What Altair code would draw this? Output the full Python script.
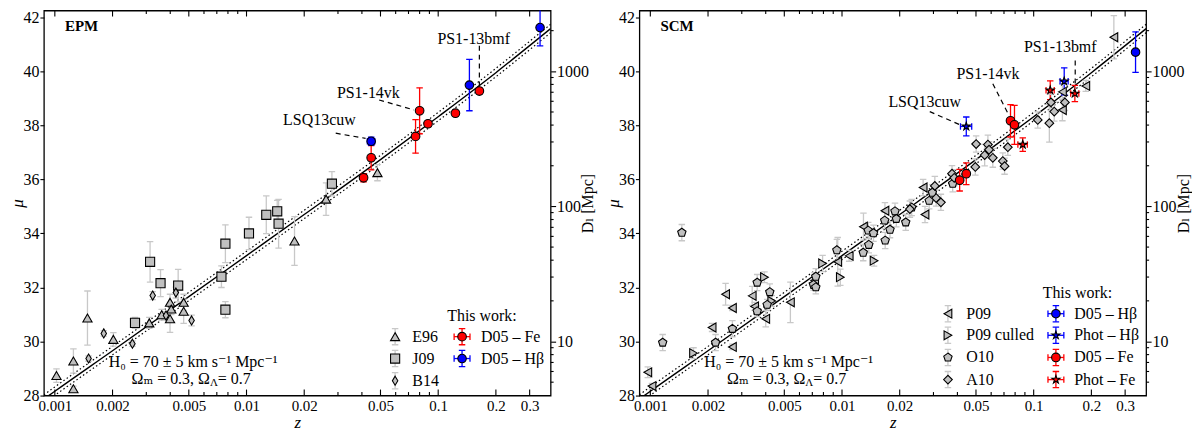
import altair as alt
import pandas as pd

# ---------------- EPM panel (left) ----------------
e96_z = [0.00102, 0.00125, 0.00125, 0.00148, 0.00202, 0.00311, 0.00361, 0.00399, 0.00405,
         0.00399, 0.0047, 0.0047, 0.0178, 0.026, 0.0482]
e96_mu = [28.74, 29.28, 28.25, 30.87, 30.08, 30.69, 30.99, 31.45, 31.2,
          30.84, 31.45, 31.12, 33.72, 35.27, 36.25]
e96_err = [0.25, 0.45, 0.1, 1.0, 0.25, 0.2, 0.2, 0.3, 0.2, 0.5, 0.3, 0.45, 0.9, 0.6, 0.3]

j09_z = [0.00262, 0.00314, 0.00356, 0.0044, 0.0074, 0.00776, 0.00776, 0.0103, 0.01268,
         0.01446, 0.0147, 0.0279]
j09_mu = [30.69, 32.95, 32.16, 32.07, 32.4, 33.62, 31.18, 34.0, 34.69, 34.82, 34.36, 35.84]
j09_err = [0.2, 0.75, 0.5, 0.6, 0.4, 0.7, 0.3, 0.6, 0.7, 0.4, 0.9, 0.45]

b14_z = [0.0015, 0.0018, 0.00254, 0.00324, 0.0038, 0.00428, 0.00517]
b14_mu = [29.37, 30.3, 29.92, 31.7, 30.96, 31.81, 30.78]
b14_err = [0.1, 0.1, 0.1, 0.15, 0.15, 0.2, 0.2]

epm_fe_z = [0.0408, 0.0447, 0.0762, 0.080, 0.0885, 0.123, 0.164]
epm_fe_mu = [36.06, 36.8, 37.59, 38.54, 38.06, 38.45, 39.27]
epm_fe_err = [0.15, 0.45, 0.62, 0.85, 0.1, 0.1, 0.1]

epm_hb_z = [0.0447, 0.1455, 0.34]
epm_hb_mu = [37.41, 39.49, 41.62]
epm_hb_err = [0.15, 0.95, 0.68]
epm_hb_zerr = [0.002, 0, 0]

# ---------------- SCM panel (right) ----------------
p09_z = [0.00097, 0.00102, 0.0021, 0.00247, 0.00268, 0.00268, 0.0034, 0.0035, 0.0040,
         0.00538, 0.0072, 0.0095, 0.0109, 0.01294, 0.01675, 0.0265, 0.0271, 0.1412,
         0.1412, 0.187, 0.262]
p09_mu = [28.86, 28.35, 30.52, 31.75, 31.24, 29.8, 31.69, 31.3, 30.84,
          31.45, 32.25, 32.95, 33.17, 34.25, 34.84, 35.7, 34.7, 39.24,
          38.57, 39.46, 41.26]
p09_err = [0.2, 0.1, 0.15, 0.4, 0.1, 0.1, 0.35, 0.15, 0.3, 0.75, 0.3, 0.9, 0.2, 0.5,
           0.3, 0.3, 0.3, 0.3, 0.4, 0.2, 0.8]

p09c_z = [0.00168, 0.00394, 0.0043, 0.00792, 0.0098, 0.0147]
p09c_mu = [29.57, 32.38, 31.5, 32.89, 32.38, 32.99]
p09c_err = [0.2, 0.2, 0.2, 0.3, 0.3, 0.2]

o10_z = [0.00116, 0.00146, 0.00219, 0.00268, 0.00361, 0.00361, 0.00407, 0.0042, 0.0073,
         0.0071, 0.0073, 0.0094, 0.0129, 0.0138, 0.0137, 0.0146, 0.0167, 0.0168, 0.0178,
         0.0189, 0.0192, 0.0215, 0.0231, 0.0285, 0.0296, 0.0378]
o10_mu = [29.96, 34.03, 29.96, 30.47, 32.18, 31.12, 31.36, 31.83, 32.4,
          32.1, 32.01, 33.38, 33.29, 33.58, 34.11, 34.01, 34.48, 33.74, 34.14,
          34.82, 34.54, 34.41, 34.96, 35.21, 35.51, 35.84]
o10_err = [0.3, 0.3, 0.3, 0.3, 0.3, 0.2, 0.2, 0.3, 0.3, 0.2, 0.25, 0.4, 0.3, 0.3, 0.3,
           0.3, 0.3, 0.3, 0.3, 0.3, 0.3, 0.3, 0.3, 0.3, 0.3, 0.3]

a10_z = [0.0226, 0.0305, 0.031, 0.0328, 0.0375, 0.0385, 0.0501, 0.0577, 0.0585, 0.0555,
         0.0612, 0.069, 0.0705, 0.0496, 0.0733, 0.105, 0.1207, 0.123, 0.1455, 0.128]
a10_mu = [34.9, 35.76, 35.31, 35.15, 36.21, 36.06, 37.31, 37.29, 37.1, 36.9,
          36.8, 36.68, 36.49, 36.46, 37.19, 38.2, 38.08, 38.85, 38.85, 38.51]
a10_err = [0.3, 0.35, 0.3, 0.3, 0.3, 0.3, 0.3, 0.35, 0.3, 0.4, 0.35, 0.3, 0.3, 0.3, 0.3,
           0.3, 0.7, 0.3, 0.3, 0.35]

scm_hb_z = [0.34]
scm_hb_mu = [40.71]
scm_hb_err = [0.75]

scm_phb_z = [0.0445, 0.1443]
scm_phb_mu = [37.96, 39.63]
scm_phb_err = [0.35, 0.5]
scm_phb_zerr = [0.003, 0.007]

scm_fe_z = [0.0411, 0.0445, 0.0757, 0.0794]
scm_fe_mu = [35.97, 36.21, 38.17, 38.02]
scm_fe_err = [0.4, 0.4, 0.6, 0.72]

scm_pfe_z = [0.0877, 0.122, 0.164]
scm_pfe_mu = [37.29, 39.3, 39.18]
scm_pfe_err = [0.25, 0.35, 0.3]
scm_pfe_zerr = [0.005, 0.006, 0.008]

# Hubble-law curves (H0 = 70 solid, 65 / 75 dotted)
hub_z = [0.000877, 0.001, 0.002, 0.005, 0.01, 0.02, 0.05, 0.1, 0.2, 0.3, 0.386]
hub_mu = [27.87, 28.16, 29.66, 31.66, 33.18, 34.70, 36.73, 38.32, 39.95, 40.95, 41.58]
hub_hi = [28.03, 28.32, 29.82, 31.82, 33.34, 34.86, 36.89, 38.48, 40.11, 41.11, 41.74]
hub_lo = [27.72, 28.01, 29.51, 31.51, 33.03, 34.55, 36.58, 38.17, 39.80, 40.80, 41.43]

# axis ticks
x_major = [0.001, 0.002, 0.005, 0.01, 0.02, 0.05, 0.1, 0.2, 0.3]
x_minor = [0.003, 0.004, 0.006, 0.007, 0.008, 0.009, 0.03, 0.04, 0.06, 0.07, 0.08, 0.09]
mu_ticks = [28, 30, 32, 34, 36, 38, 40, 42]
dl_major = [10, 100, 1000]
dl_ticks = [5, 6, 7, 8, 9, 20, 30, 40, 50, 60, 70, 80, 90,
            200, 300, 400, 500, 600, 700, 800, 900, 2000]

W, H = 508, 386
FONT = 'Liberation Serif, DejaVu Serif, serif'

PENT = 'M0,-1L0.951,-0.309L0.588,0.809L-0.588,0.809L-0.951,-0.309Z'
STAR = ('M0,-1L0.225,-0.309L0.951,-0.309L0.363,0.118L0.588,0.809L0,0.382'
        'L-0.588,0.809L-0.363,0.118L-0.951,-0.309L-0.225,-0.309Z')
THIN = 'M0,-1L0.6,0L0,1L-0.6,0Z'

SETS = ['E96', 'J09', 'B14', 'P09', 'P09 culled', 'O10', 'A10',
        'D05 – Fe', 'D05 – Hβ', 'Phot – Fe', 'Phot – Hβ']
SHAPES = ['triangle-up', 'square', THIN, 'triangle-left', 'triangle-right', PENT, 'diamond',
          'circle', 'circle', STAR, STAR]
FILLS = ['#c0c0c0'] * 7 + ['#ff0000', '#0000ff', '#ff0000', '#0000ff']
ECOLS = ['#c8c8c8'] * 7 + ['#ff0000', '#0000ff', '#ff0000', '#0000ff']
SIZES = [85, 70, 130, 75, 75, 110, 80, 100, 100, 170, 170]

XS = alt.Scale(type='log', domain=[0.000877, 0.386], nice=False)
YS = alt.Scale(domain=[28, 42.25], nice=False, zero=False)
XAX = alt.Axis(values=x_major, format='~g', tickSize=0, domain=False, grid=False,
               labelPadding=3, labelFontSize=15, title='z', titleFontStyle='italic',
               titleFontWeight='normal', titleFontSize=17, titlePadding=1)
YAX = alt.Axis(values=mu_ticks, tickSize=4, domain=False, grid=False, labelPadding=1,
               labelFontSize=16, title='μ', titleFontStyle='italic', titleFontWeight='normal',
               titleFontSize=17, titlePadding=-4)


def X(f):
    return alt.X(f, type='quantitative', scale=XS, axis=XAX)


def Y(f):
    return alt.Y(f, type='quantitative', scale=YS, axis=YAX)


def series(name, z, mu, err, zerr=None):
    zerr = zerr or [0] * len(z)
    return pd.DataFrame({
        'set': name, 'z': z, 'mu': mu,
        'lo': [m - e for m, e in zip(mu, err)], 'hi': [m + e for m, e in zip(mu, err)],
        'zlo': [a - b for a, b in zip(z, zerr)], 'zhi': [a + b for a, b in zip(z, zerr)]})


def legend_rows(entries, col_z, rows_mu):
    out = []
    for name, col, row in entries:
        z, mu = col_z[col][0], rows_mu[row]
        own = name.startswith('D05') or name.startswith('Phot')
        zl, zh = (z / 1.1, z * 1.1) if own else (z, z)
        out.append(pd.DataFrame({'set': [name], 'z': [z], 'mu': [mu], 'lo': [mu - 0.3],
                                 'hi': [mu + 0.3], 'zlo': [zl], 'zhi': [zh]}))
    txt = pd.DataFrame({'z': [col_z[c][1] for _, c, _ in entries],
                        'mu': [rows_mu[r] for _, _, r in entries],
                        'txt': [n for n, _, _ in entries]})
    return out, txt


def text(df, **kw):
    kw.setdefault('baseline', 'middle')
    kw.setdefault('fontSize', 16)
    return alt.Chart(df).mark_text(font=FONT, color='black', **kw)


def panel(pts, leg_txt, work_pos, notes, note_lines, label):
    ecol = alt.Color('set:N', scale=alt.Scale(domain=SETS, range=ECOLS), legend=None)
    base = alt.Chart(pts)

    hub = pd.DataFrame({'z': hub_z * 3, 'mu': hub_mu + hub_hi + hub_lo,
                        'c': ['mid'] * 11 + ['hi'] * 11 + ['lo'] * 11})
    dotted = alt.Chart(hub).transform_filter("datum.c != 'mid'").mark_line(
        color='black', strokeWidth=1.2, strokeDash=[1.5, 2.5], interpolate='monotone',
        clip=True).encode(x=X('z'), y=Y('mu'), detail='c:N')
    solid = alt.Chart(hub).transform_filter("datum.c == 'mid'").mark_line(
        color='black', strokeWidth=1.4, interpolate='monotone', clip=True).encode(
        x=X('z'), y=Y('mu'))

    vbar = base.mark_rule(strokeWidth=1.3, clip=True).encode(
        x=X('z'), y=Y('lo'), y2='hi', color=ecol)
    vcap = base.transform_fold(['lo', 'hi'], as_=['k', 'v']).mark_point(
        shape='stroke', size=42, strokeWidth=1.3, opacity=1, clip=True).encode(
        x=X('z'), y=Y('v:Q'), color=ecol)
    xb = base.transform_filter('datum.zhi > datum.zlo')
    hbar = xb.mark_rule(strokeWidth=1.3).encode(x=X('zlo'), x2='zhi', y=Y('mu'), color=ecol)
    hcap = xb.transform_fold(['zlo', 'zhi'], as_=['k', 'v']).mark_point(
        shape='stroke', angle=90, size=42, strokeWidth=1.3, opacity=1).encode(
        x=X('v:Q'), y=Y('mu'), color=ecol)
    dots = base.mark_point(filled=True, opacity=1, stroke='black', strokeWidth=1.1,
                           clip=True).encode(
        x=X('z'), y=Y('mu'),
        shape=alt.Shape('set:N', scale=alt.Scale(domain=SETS, range=SHAPES), legend=None),
        fill=alt.Fill('set:N', scale=alt.Scale(domain=SETS, range=FILLS), legend=None),
        size=alt.Size('set:N', scale=alt.Scale(domain=SETS, range=SIZES), legend=None))

    ticks = []
    for vals, ln in ((x_major, 6), (x_minor, 3.5)):
        tdf = alt.Chart(pd.DataFrame({'z': vals}))
        ticks.append(tdf.mark_rule(color='black', strokeWidth=1.1).encode(
            x=X('z'), y=alt.value(0), y2=alt.value(ln)))
        ticks.append(tdf.mark_rule(color='black', strokeWidth=1.1).encode(
            x=X('z'), y=alt.value(H), y2=alt.value(H - ln)))

    ltxt = text(leg_txt, align='left').encode(x=X('z'), y=Y('mu'), text='txt:N')
    work = text(pd.DataFrame({'z': [work_pos[0]], 'mu': [work_pos[1]], 't': ['This work:']}),
                align='left').encode(x=X('z'), y=Y('mu'), text='t:N')
    ntxt = text(notes, align='center').encode(x=X('z'), y=Y('mu'), text='txt:N')
    nline = alt.Chart(note_lines).mark_line(color='black', strokeWidth=1.2,
                                            strokeDash=[5, 4]).encode(
        x=X('z'), y=Y('mu'), detail='g:N')
    lab = text(pd.DataFrame({'z': [0.00113], 'mu': [41.68], 't': [label]}), align='left',
               fontSize=15, fontWeight='bold').encode(x=X('z'), y=Y('mu'), text='t:N')

    h0 = text(pd.DataFrame({'z': [0.00527], 'mu': [29.25], 't': ['H₀ = 70 ± 5 km s⁻¹ Mpc⁻¹']}),
              align='center').encode(x=X('z'), y=Y('mu'), text='t:N')
    om_df = pd.DataFrame({'z': [0.00644], 'mu': [28.61]})
    om1 = text(om_df, align='right').encode(x=X('z'), y=Y('mu'), text=alt.value('Ωₘ = 0.3, Ω'))
    om2 = text(om_df, align='left', fontSize=11, dy=4).encode(
        x=X('z'), y=Y('mu'), text=alt.value('Λ'))
    om3 = text(om_df, align='left', dx=8).encode(x=X('z'), y=Y('mu'), text=alt.value(' = 0.7'))

    inner = alt.layer(dotted, solid, vbar, vcap, hbar, hcap, dots, *ticks, ltxt, work,
                      nline, ntxt, lab, h0, om1, om2, om3)

    dl = alt.Chart(pd.DataFrame({'d': dl_ticks})).mark_rule(
        color='black', strokeWidth=1.1).encode(
        x=alt.value(W), x2=alt.value(W + 3),
        y=alt.Y('d:Q', scale=alt.Scale(type='log', domain=[3.981, 2818], nice=False),
                axis=alt.Axis(orient='right', values=dl_major, format='~g', tickSize=5,
                              domain=False, grid=False, labelPadding=1, labelFontSize=16,
                              title='Dₗ [Mpc]', titleAngle=270, titleFontSize=16,
                              titleFontWeight='normal', titlePadding=7)))
    return alt.layer(inner, dl).resolve_scale(y='independent').properties(width=W, height=H)


# ---- assemble left panel
left_leg, left_txt = legend_rows(
    [('E96', 1, 0), ('J09', 1, 1), ('B14', 1, 2), ('D05 – Fe', 2, 0), ('D05 – Hβ', 2, 1)],
    {1: (0.0596, 0.0733), 2: (0.1332, 0.1673)}, [30.18, 29.37, 28.55])
left_pts = pd.concat([
    series('E96', e96_z, e96_mu, e96_err),
    series('J09', j09_z, j09_mu, j09_err),
    series('B14', b14_z, b14_mu, b14_err),
    *left_leg,
    series('D05 – Fe', epm_fe_z, epm_fe_mu, epm_fe_err),
    series('D05 – Hβ', epm_hb_z, epm_hb_mu, epm_hb_err, epm_hb_zerr),
], ignore_index=True)
left_notes = pd.DataFrame({'z': [0.024, 0.0432, 0.1532], 'mu': [38.2, 39.18, 41.19],
                           'txt': ['LSQ13cuw', 'PS1-14vk', 'PS1-13bmf']})
left_lines = pd.DataFrame({'z': [0.0292, 0.0418, 0.0492, 0.0748, 0.164, 0.164],
                           'mu': [37.71, 37.52, 38.94, 38.57, 40.95, 39.39],
                           'g': ['a', 'a', 'b', 'b', 'c', 'c']})

# ---- assemble right panel
right_leg, right_txt = legend_rows(
    [('P09', 1, 0), ('P09 culled', 1, 1), ('O10', 1, 2), ('A10', 1, 3),
     ('D05 – Hβ', 2, 0), ('Phot – Hβ', 2, 1), ('D05 – Fe', 2, 2), ('Phot – Fe', 2, 3)],
    {1: (0.0357, 0.0445), 2: (0.1306, 0.1627)}, [31.03, 30.23, 29.41, 28.59])
right_pts = pd.concat([
    series('P09', p09_z, p09_mu, p09_err),
    series('P09 culled', p09c_z, p09c_mu, p09c_err),
    series('O10', o10_z, o10_mu, o10_err),
    series('A10', a10_z, a10_mu, a10_err),
    *right_leg,
    series('D05 – Fe', scm_fe_z, scm_fe_mu, scm_fe_err),
    series('Phot – Fe', scm_pfe_z, scm_pfe_mu, scm_pfe_err, scm_pfe_zerr),
    series('D05 – Hβ', scm_hb_z, scm_hb_mu, scm_hb_err),
    series('Phot – Hβ', scm_phb_z, scm_phb_mu, scm_phb_err, scm_phb_zerr),
], ignore_index=True)
right_notes = pd.DataFrame({'z': [0.027, 0.0577, 0.1376], 'mu': [38.87, 39.91, 40.89],
                            'txt': ['LSQ13cuw', 'PS1-14vk', 'PS1-13bmf']})
right_lines = pd.DataFrame({'z': [0.0287, 0.0419, 0.0612, 0.0741, 0.1647, 0.1647],
                            'mu': [38.51, 38.0, 39.54, 38.39, 40.4, 39.39],
                            'g': ['a', 'a', 'b', 'b', 'c', 'c']})

left = panel(left_pts, left_txt, (0.1114, 30.93), left_notes, left_lines, 'EPM')
right = panel(right_pts, right_txt, (0.1114, 31.81), right_notes, right_lines, 'SCM')

chart = alt.hconcat(left, right, spacing=7).properties(
    padding={'left': 0, 'top': 0, 'right': 0, 'bottom': 0}
).configure(font=FONT).configure_view(
    stroke='black', strokeWidth=1.3
).configure_axis(
    labelColor='black', titleColor='black', tickColor='black', tickWidth=1.1,
    labelFont=FONT, titleFont=FONT
).configure_text(font=FONT)

chart.save('out.html', embed_options={'renderer': 'svg', 'actions': False})
